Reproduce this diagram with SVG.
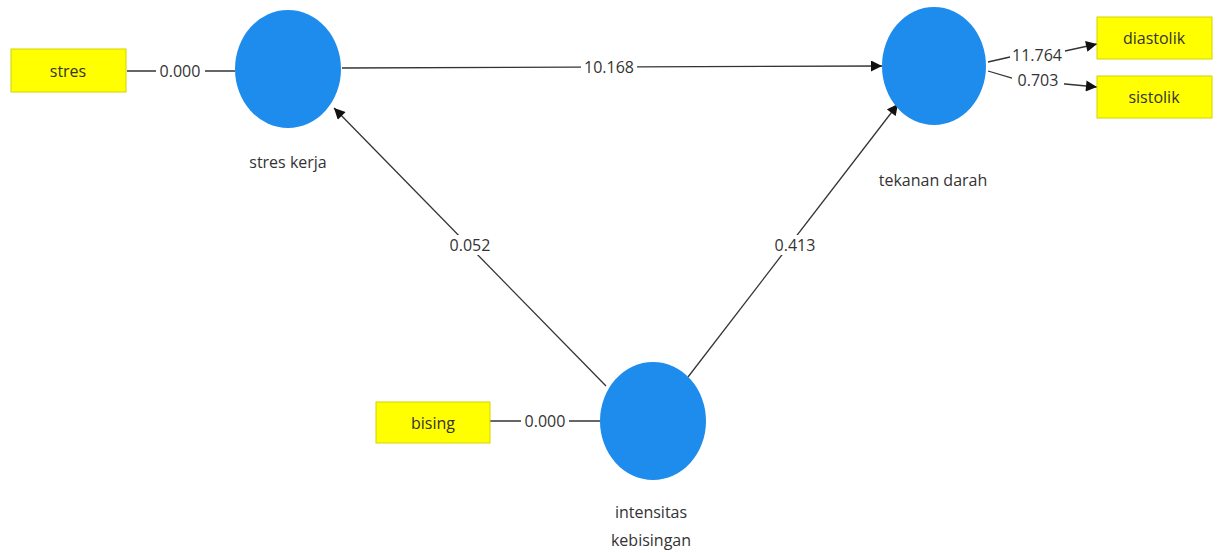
<svg xmlns="http://www.w3.org/2000/svg" width="1223" height="553" viewBox="0 0 1223 553">
<style>
.bg{fill:#ffffff}
.lv{fill:#1e8cec}
.ind{fill:#ffff00;stroke:#d4d400;stroke-width:1}
.t{font-family:"Open Sans","Noto Sans","DejaVu Sans",sans-serif;font-size:16px;fill:#333333;text-anchor:middle;dominant-baseline:central}
.e{stroke:#333333;stroke-width:1.3;fill:none}
.lb{fill:#ffffff}
</style>
<defs>
<marker id="ah" viewBox="0 0 10 10" refX="10" refY="5" markerWidth="12" markerHeight="11" markerUnits="userSpaceOnUse" orient="auto">
<path d="M0,0 L10,5 L0,10 z" fill="#111111"/>
</marker>
</defs>
<rect class="bg" x="0" y="0" width="1223" height="553"/>
<g id="connectors">
<line class="e" x1="127" y1="71" x2="235" y2="71"/>
<line class="e" x1="490" y1="421" x2="600" y2="421"/>
<line class="e" x1="342" y1="68" x2="882" y2="66" marker-end="url(#ah)"/>
<line class="e" x1="606" y1="386" x2="334" y2="108" marker-end="url(#ah)"/>
<line class="e" x1="688" y1="377" x2="898" y2="104" marker-end="url(#ah)"/>
<polyline class="e" points="988,62 1010,57 1065,51 1097,44" marker-end="url(#ah)"/>
<polyline class="e" points="988,71 1012,78 1065,84 1097,87" marker-end="url(#ah)"/>
<rect class="lb" x="156" y="61" width="49" height="20"/>
<text class="t" x="180" y="71">0.000</text>
<rect class="lb" x="521" y="411" width="48" height="20"/>
<text class="t" x="545" y="421">0.000</text>
<rect class="lb" x="581" y="57" width="56" height="20"/>
<text class="t" x="609" y="67">10.168</text>
<rect class="lb" x="446" y="235" width="48" height="20"/>
<text class="t" x="470" y="245">0.052</text>
<rect class="lb" x="771" y="235" width="48" height="20"/>
<text class="t" x="795" y="245">0.413</text>
<rect class="lb" x="1010" y="45" width="55" height="20"/>
<text class="t" x="1037" y="55">11.764</text>
<rect class="lb" x="1012" y="70" width="52" height="20"/>
<text class="t" x="1038" y="80">0.703</text>
</g>
<g id="stres">
<rect class="ind" x="11" y="49" width="115" height="43"/>
<text class="t" x="68" y="71">stres</text>
</g>
<g id="bising">
<rect class="ind" x="376" y="402" width="114" height="41"/>
<text class="t" x="433" y="423">bising</text>
</g>
<g id="diastolik">
<rect class="ind" x="1097" y="17" width="115" height="42"/>
<text class="t" x="1154" y="38">diastolik</text>
</g>
<g id="sistolik">
<rect class="ind" x="1097" y="76" width="115" height="42"/>
<text class="t" x="1154" y="97">sistolik</text>
</g>
<g id="stres-kerja">
<ellipse class="lv" cx="288" cy="69" rx="53" ry="59"/>
<text class="t" x="288" y="162">stres kerja</text>
</g>
<g id="tekanan-darah">
<ellipse class="lv" cx="934" cy="66" rx="52" ry="59"/>
<text class="t" x="933" y="180">tekanan darah</text>
</g>
<g id="intensitas-kebisingan">
<ellipse class="lv" cx="653" cy="421" rx="53" ry="59"/>
<text class="t" x="651" y="512">intensitas</text>
<text class="t" x="651" y="540">kebisingan</text>
</g>
</svg>
